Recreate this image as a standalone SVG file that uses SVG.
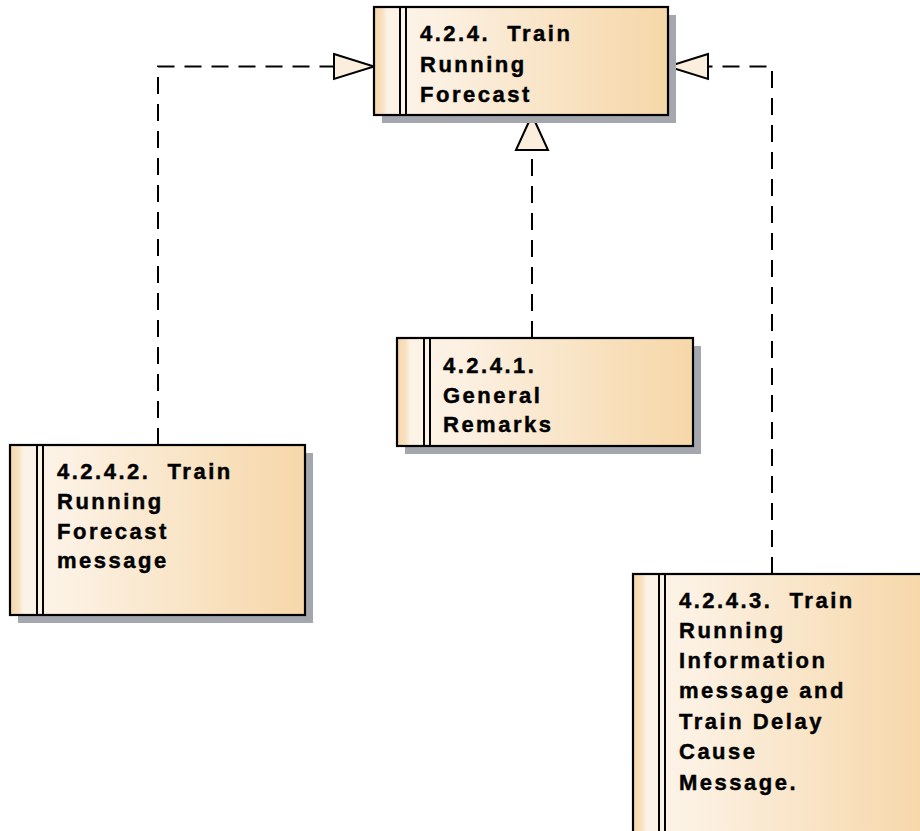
<svg xmlns="http://www.w3.org/2000/svg" width="920" height="831" viewBox="0 0 920 831">
  <style>
    .shadow { fill: #a5a7ae; }
    .box { fill: url(#boxFill); stroke: #000; stroke-width: 2.2; }
    .bar { stroke: #000; stroke-width: 2; }
    .label { font-family: "Liberation Sans", Arial, sans-serif; font-weight: bold; font-size: 22px; letter-spacing: 2.5px; fill: #000; stroke: #000; stroke-width: 0.45; white-space: pre; }
    .dep { fill: none; stroke: #000; stroke-width: 2; stroke-dasharray: 17 10; }
    .head { fill: #fbeedd; stroke: #000; stroke-width: 2; stroke-linejoin: miter; }
  </style>
  <defs>
    <linearGradient id="boxFill" x1="0" y1="0" x2="1" y2="0">
      <stop offset="0" stop-color="#f6d6a6"/>
      <stop offset="0.03" stop-color="#f8e2c4"/>
      <stop offset="0.045" stop-color="#fcf3e7"/>
      <stop offset="0.2" stop-color="#fcf1e3"/>
      <stop offset="1" stop-color="#f6d7a8"/>
    </linearGradient>
  </defs>

  <rect width="920" height="831" fill="#fff"/>

  <!-- dependency connectors -->
  <g id="connectors">
    <polyline class="dep" points="158,445 158,66.5 334,66.5"/>
    <polygon class="head" points="334,54 374,66.5 334,79"/>
    <polyline class="dep" points="772,574 772,66.5 708,66.5"/>
    <polygon class="head" points="708,54 668,66.5 708,79"/>
    <line class="dep" x1="532" y1="338" x2="532" y2="150"/>
    <polygon class="head" points="516,150 532,115 548,150"/>
  </g>

  <!-- 4.2.4 -->
  <g id="node-424">
    <rect class="shadow" x="382" y="15" width="294" height="108"/>
    <rect class="box" x="374" y="7" width="294" height="108"/>
    <line class="bar" x1="400" y1="7" x2="400" y2="115"/>
    <line class="bar" x1="406" y1="7" x2="406" y2="115"/>
    <text class="label" x="420" y="40.5">4.2.4.  Train</text>
    <text class="label" x="420" y="71.5">Running</text>
    <text class="label" x="420" y="101.5">Forecast</text>
  </g>

  <!-- 4.2.4.1 -->
  <g id="node-4241">
    <rect class="shadow" x="405" y="346" width="296" height="108"/>
    <rect class="box" x="397" y="338" width="296" height="108"/>
    <line class="bar" x1="424" y1="338" x2="424" y2="446"/>
    <line class="bar" x1="430" y1="338" x2="430" y2="446"/>
    <text class="label" x="443" y="373">4.2.4.1.</text>
    <text class="label" x="443" y="403">General</text>
    <text class="label" x="443" y="432">Remarks</text>
  </g>

  <!-- 4.2.4.2 -->
  <g id="node-4242">
    <rect class="shadow" x="18" y="453" width="295" height="170"/>
    <rect class="box" x="10" y="445" width="295" height="170"/>
    <line class="bar" x1="37" y1="445" x2="37" y2="615"/>
    <line class="bar" x1="43" y1="445" x2="43" y2="615"/>
    <text class="label" x="57" y="478.5">4.2.4.2.  Train</text>
    <text class="label" x="57" y="509">Running</text>
    <text class="label" x="57" y="539">Forecast</text>
    <text class="label" x="57" y="568">message</text>
  </g>

  <!-- 4.2.4.3 -->
  <g id="node-4243">
    <rect class="shadow" x="641" y="582" width="295" height="300"/>
    <rect class="box" x="633" y="574" width="295" height="300"/>
    <line class="bar" x1="659" y1="574" x2="659" y2="874"/>
    <line class="bar" x1="665" y1="574" x2="665" y2="874"/>
    <text class="label" x="679" y="607.5">4.2.4.3.  Train</text>
    <text class="label" x="679" y="638">Running</text>
    <text class="label" x="679" y="668">Information</text>
    <text class="label" x="679" y="698">message and</text>
    <text class="label" x="679" y="728.5">Train Delay</text>
    <text class="label" x="679" y="759">Cause</text>
    <text class="label" x="679" y="789.5">Message.</text>
  </g>
</svg>
